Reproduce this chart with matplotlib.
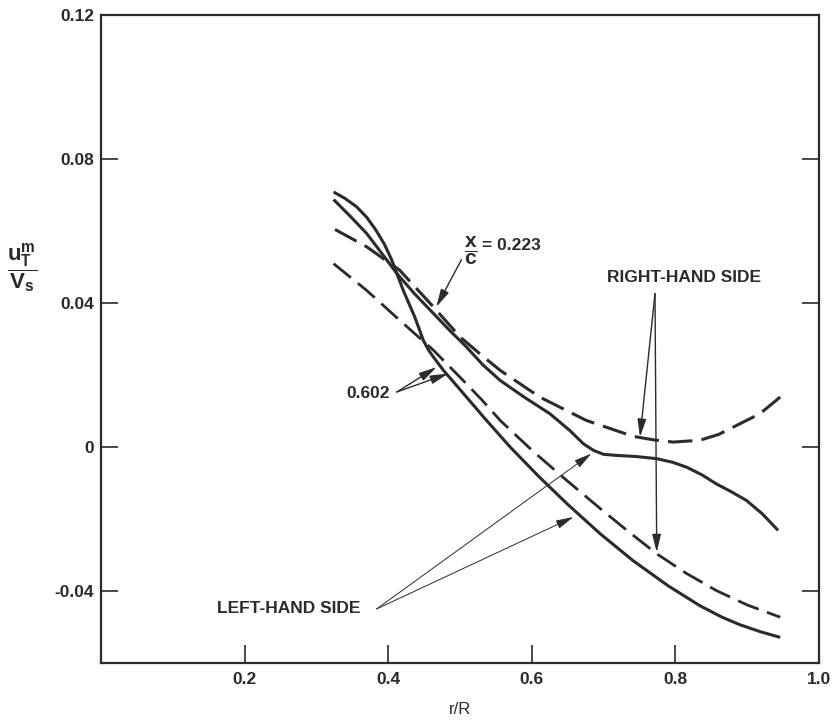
import matplotlib
matplotlib.use("Agg")
import matplotlib.pyplot as plt

plt.rcParams['font.family'] = ['Liberation Sans', 'DejaVu Sans']
plt.rcParams['mathtext.fontset'] = 'custom'
plt.rcParams['mathtext.rm'] = 'Liberation Sans'
plt.rcParams['mathtext.bf'] = 'Liberation Sans:bold'

ink = '#2b2b2b'

# left-hand side (solid) and right-hand side (dashed) profiles at two chord stations
lhs_223_x = [0.324, 0.347, 0.370, 0.391, 0.412, 0.437, 0.463, 0.486, 0.509, 0.532, 0.556, 0.590, 0.625, 0.653, 0.672,
             0.686, 0.700, 0.718, 0.745, 0.774, 0.796, 0.816, 0.837, 0.857, 0.878, 0.899, 0.921, 0.943]
lhs_223_y = [0.0687, 0.0641, 0.0593, 0.0538, 0.0482, 0.0425, 0.0371, 0.0323, 0.0278, 0.0228, 0.0185, 0.0138, 0.0093,
             0.0046, 0.0009, -0.0009, -0.0020, -0.0023, -0.0026, -0.0032, -0.0042, -0.0056, -0.0077, -0.0102,
             -0.0124, -0.0148, -0.0185, -0.0231]

lhs_602_x = [0.324, 0.340, 0.356, 0.370, 0.383, 0.395, 0.405, 0.421, 0.437, 0.449, 0.456, 0.463, 0.477, 0.493,
             0.509, 0.537, 0.570, 0.610, 0.649, 0.695, 0.741, 0.790, 0.834, 0.865, 0.890, 0.918, 0.946]
lhs_602_y = [0.0708, 0.0690, 0.0667, 0.0638, 0.0602, 0.0562, 0.0519, 0.0435, 0.0361, 0.0296, 0.0270, 0.0250, 0.0213,
             0.0176, 0.0139, 0.0074, 0.0000, -0.0082, -0.0157, -0.0240, -0.0315, -0.0385, -0.0440, -0.0472,
             -0.0493, -0.0512, -0.0528]

rhs_223_x = [0.326, 0.370, 0.416, 0.463, 0.500, 0.530, 0.556, 0.611, 0.676, 0.741, 0.770, 0.797, 0.834, 0.860,
             0.881, 0.918, 0.946]
rhs_223_y = [0.0604, 0.0556, 0.0491, 0.0389, 0.0306, 0.0255, 0.0213, 0.0139, 0.0074, 0.0030, 0.0020, 0.0014, 0.0019,
             0.0035, 0.0056, 0.0093, 0.0139]

rhs_602_x = [0.324, 0.370, 0.416, 0.463, 0.500, 0.530, 0.556, 0.602, 0.649, 0.695, 0.735, 0.774, 0.815, 0.857,
             0.900, 0.946]
rhs_602_y = [0.0509, 0.0435, 0.0352, 0.0269, 0.0194, 0.0132, 0.0074, -0.0012, -0.0093, -0.0170, -0.0235, -0.0296,
             -0.0350, -0.0398, -0.0438, -0.0472]

x_ticks = [0.2, 0.4, 0.6, 0.8, 1.0]
x_labels = ['0.2', '0.4', '0.6', '0.8', '1.0']
y_ticks = [0.12, 0.08, 0.04, 0.0, -0.04]
y_labels = ['0.12', '0.08', '0.04', '0', '-0.04']

fig = plt.figure(figsize=(8.4, 7.2), dpi=100)
ax = fig.add_axes([0.1202, 0.0787, 0.8548, 0.9009])

ax.plot(lhs_223_x, lhs_223_y, color=ink, lw=2.2, solid_capstyle='butt', solid_joinstyle='round')
ax.plot(lhs_602_x, lhs_602_y, color=ink, lw=2.2, solid_capstyle='butt', solid_joinstyle='round')
ax.plot(rhs_223_x, rhs_223_y, color=ink, lw=2.2, dashes=(8, 3), dash_joinstyle='round')
ax.plot(rhs_602_x, rhs_602_y, color=ink, lw=2.0, dashes=(8, 3.2), dash_joinstyle='round')

ax.set_xlim(0, 1.0)
ax.set_ylim(-0.06, 0.12)
ax.set_xticks(x_ticks)
ax.set_xticklabels(x_labels)
ax.set_yticks(y_ticks)
ax.set_yticklabels(y_labels)
ax.tick_params(axis='x', direction='in', length=13, width=1.2, color=ink, pad=6,
               labelsize=12.5, labelcolor=ink)
ax.tick_params(axis='y', direction='in', length=12, width=1.2, color=ink, pad=5,
               labelsize=12.5, labelcolor=ink, right=True)
for lab in ax.get_xticklabels() + ax.get_yticklabels():
    lab.set_fontweight('bold')
for sp in ax.spines.values():
    sp.set_linewidth(1.6)
    sp.set_color(ink)

ax.set_xlabel('r/R', fontsize=12, color=ink, labelpad=11)
fig.text(22 / 840, 1 - 268 / 720,
         r'$\dfrac{\mathbf{u}^{\mathbf{m}}_{\mathbf{T}}}{\mathbf{V}_{\mathbf{s}}}$',
         fontsize=16, color=ink, ha='center', va='center')

arrow = dict(arrowstyle='-|>,head_length=0.9,head_width=0.22', color=ink, lw=1.0,
             shrinkA=0, shrinkB=0, mutation_scale=12)
thin = dict(arrow, lw=0.7)

# station labels
ax.text(0.506, 0.0546, r'$\dfrac{\mathbf{x}}{\mathbf{c}}$', fontsize=15,
        color=ink, ha='left', va='center')
ax.text(0.530, 0.0560, '= 0.223', fontsize=12.5, fontweight='bold', color=ink,
        ha='left', va='center')
ax.annotate('', xy=(0.467, 0.0389), xytext=(0.502, 0.0520), arrowprops=arrow)

ax.text(0.4025, 0.0148, '0.602', fontsize=12.5, fontweight='bold', color=ink,
        ha='right', va='center')
ax.annotate('', xy=(0.4675, 0.0222), xytext=(0.412, 0.0153), arrowprops=arrow)
ax.annotate('', xy=(0.4837, 0.0204), xytext=(0.412, 0.0153), arrowprops=arrow)

# side labels
ax.text(0.7047, 0.0472, 'RIGHT-HAND SIDE', fontsize=12.5, fontweight='bold', color=ink,
        ha='left', va='center')
ax.annotate('', xy=(0.7507, 0.0028), xytext=(0.7716, 0.0426), arrowprops=arrow)
ax.annotate('', xy=(0.774, -0.0292), xytext=(0.7716, 0.0426), arrowprops=arrow)

ax.text(0.161, -0.0449, 'LEFT-HAND SIDE', fontsize=12.5, fontweight='bold', color=ink,
        ha='left', va='center')
ax.annotate('', xy=(0.683, -0.0018), xytext=(0.384, -0.0449), arrowprops=thin)
ax.annotate('', xy=(0.658, -0.0194), xytext=(0.384, -0.0449), arrowprops=thin)

fig.savefig('out.png', dpi=100)
